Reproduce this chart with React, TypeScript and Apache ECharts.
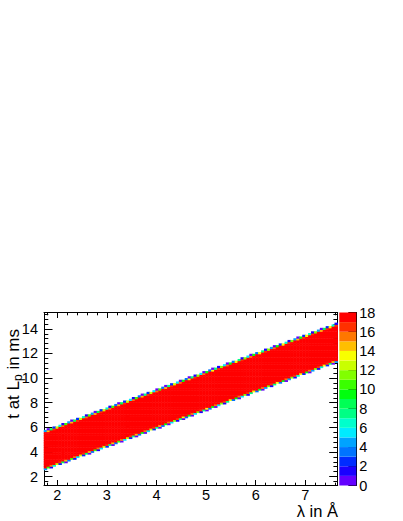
import { useEffect, useRef } from "react";
import * as echarts from "echarts";

// Axis ranges (read from the frame edges)
const lambdaRange = [1.732, 7.653];
const timeRange = [1.27, 15.33];
const lambdaBinCount = 100;
const timeBinCount = 100;

// Band edges read at the left and right frame edges
const bandEdgeLambda = [1.732, 7.653];
const bandUpperTime = [5.62, 14.39];
const bandLowerTime = [2.6, 11.4];
const bandPeakCount = 17.4;

// Colour scale levels (z) and palette (ROOT pretty palette, 18 contours)
const zLevels = [0, 1, 2, 3, 4, 5, 6, 7, 8, 9, 10, 11, 12, 13, 14, 15, 16, 17, 18];
const paletteColors = [
  "#6300FF", "#1B00FF", "#002CFF", "#0074FF", "#00A3FF", "#00EBFF",
  "#00FFCC", "#00FF85", "#00FF55", "#00FF0E", "#3AFF00", "#81FF00",
  "#C9FF00", "#F8FF00", "#FFBE00", "#FF7700", "#FF3000", "#FF0000",
];

const FONT = "Liberation Sans";

function edgeAt(edge: number[], lam: number) {
  const f = (lam - bandEdgeLambda[0]) / (bandEdgeLambda[1] - bandEdgeLambda[0]);
  return edge[0] + f * (edge[1] - edge[0]);
}

function buildCells() {
  const dx = (lambdaRange[1] - lambdaRange[0]) / lambdaBinCount;
  const dy = (timeRange[1] - timeRange[0]) / timeBinCount;
  const cells: number[][] = [];
  const sub = 12;
  for (let ix = 0; ix < lambdaBinCount; ix++) {
    const x0 = lambdaRange[0] + ix * dx;
    for (let iy = 0; iy < timeBinCount; iy++) {
      const y0 = timeRange[0] + iy * dy;
      const y1 = y0 + dy;
      let cov = 0;
      for (let k = 0; k < sub; k++) {
        const x = x0 + ((k + 0.5) * dx) / sub;
        const lo = edgeAt(bandLowerTime, x);
        const hi = edgeAt(bandUpperTime, x);
        cov += Math.max(0, Math.min(hi, y1) - Math.max(lo, y0));
      }
      cov /= sub * dy;
      if (cov > 0.01) cells.push([ix, iy, cov * bandPeakCount]);
    }
  }
  return cells;
}

export default function App() {
  const ref = useRef<HTMLDivElement>(null);
  useEffect(() => {
    if (!ref.current) return;
    const chart = echarts.init(ref.current, null, { renderer: "svg" });
    const lambdaBins = Array.from({ length: lambdaBinCount }, (_, i) => String(i));
    const timeBins = Array.from({ length: timeBinCount }, (_, i) => String(i));
    const black = { color: "#000", width: 1 };
    const label = { color: "#000", fontSize: 14.5, fontFamily: FONT };

    const mkX = (position: string, showLabel: boolean) => ({
      type: "value",
      gridIndex: 0,
      position,
      min: lambdaRange[0],
      max: lambdaRange[1],
      minInterval: 1,
      maxInterval: 1,
      axisLine: { show: true, onZero: false, lineStyle: black },
      axisTick: { show: true, inside: true, length: 5.5, lineStyle: black },
      minorTick: { show: true, splitNumber: 5, length: 2.8, lineStyle: black },
      splitLine: { show: false },
      minorSplitLine: { show: false },
      axisLabel: { show: showLabel, margin: 2, showMinLabel: false, showMaxLabel: false, ...label },
    });
    const mkY = (position: string, showLabel: boolean) => ({
      type: "value",
      gridIndex: 0,
      position,
      min: timeRange[0],
      max: timeRange[1],
      minInterval: 2,
      maxInterval: 2,
      axisLine: { show: true, onZero: false, lineStyle: black },
      axisTick: { show: true, inside: true, length: 8.5, lineStyle: black },
      minorTick: { show: true, splitNumber: 5, length: 4.3, lineStyle: black },
      splitLine: { show: false },
      minorSplitLine: { show: false },
      axisLabel: { show: showLabel, margin: 6, showMinLabel: false, showMaxLabel: false, ...label },
    });

    chart.setOption({
      animation: false,
      backgroundColor: "#fff",
      grid: [
        { left: 44, right: 65.3, top: 312.5, bottom: 35.5, containLabel: false, outerBoundsMode: "none" },
        { left: 339.3, width: 17, top: 312.5, bottom: 35.5, containLabel: false, outerBoundsMode: "none" },
      ],
      xAxis: [
        mkX("bottom", true),
        mkX("top", false),
        { type: "category", gridIndex: 0, show: false, data: lambdaBins, boundaryGap: true },
        { type: "category", gridIndex: 1, show: false, data: ["z"], boundaryGap: true },
      ],
      yAxis: [
        mkY("left", true),
        mkY("right", false),
        { type: "category", gridIndex: 0, show: false, data: timeBins, boundaryGap: true },
        {
          type: "value",
          gridIndex: 1,
          position: "right",
          min: zLevels[0],
          max: zLevels[zLevels.length - 1],
          interval: 2,
          axisLine: { show: true, lineStyle: black },
          axisTick: { show: true, inside: true, length: 8, lineStyle: black },
          splitLine: { show: false },
          axisLabel: { margin: 3, ...label },
        },
      ],
      visualMap: {
        type: "piecewise",
        show: false,
        seriesIndex: 0,
        dimension: 2,
        pieces: paletteColors.map((c, k) => ({ gte: zLevels[k], lt: zLevels[k + 1], color: c })),
      },
      series: [
        {
          type: "heatmap",
          xAxisIndex: 2,
          yAxisIndex: 2,
          data: buildCells(),
          progressive: 0,
          silent: true,
          itemStyle: { borderWidth: 0 },
        },
        ...paletteColors.map((c, k) => ({
          type: "bar",
          xAxisIndex: 3,
          yAxisIndex: 3,
          stack: "palette",
          data: [zLevels[k + 1] - zLevels[k]],
          barWidth: "100%",
          itemStyle: { color: c },
          silent: true,
        })),
      ],
      graphic: [
        {
          type: "text",
          x: 338,
          y: 511,
          style: {
            text: "λ in Å",
            font: `16.5px ${FONT}`,
            fill: "#000",
            textAlign: "right",
            textVerticalAlign: "middle",
          },
        },
        {
          type: "text",
          x: 13.5,
          y: 329,
          rotation: Math.PI / 2,
          style: {
            text: "{a|t at L}{b|p}{a| in ms}",
            fill: "#000",
            textAlign: "right",
            textVerticalAlign: "middle",
            rich: {
              a: { fontSize: 17, fontFamily: FONT, lineHeight: 21, fill: "#000" },
              b: { fontSize: 12, fontFamily: FONT, lineHeight: 12, verticalAlign: "bottom", fill: "#000" },
            },
          },
        },
      ],
    });
    return () => chart.dispose();
  }, []);
  return <div ref={ref} style={{ position: "absolute", left: 0, top: 0, width: 403, height: 521 }} />;
}
